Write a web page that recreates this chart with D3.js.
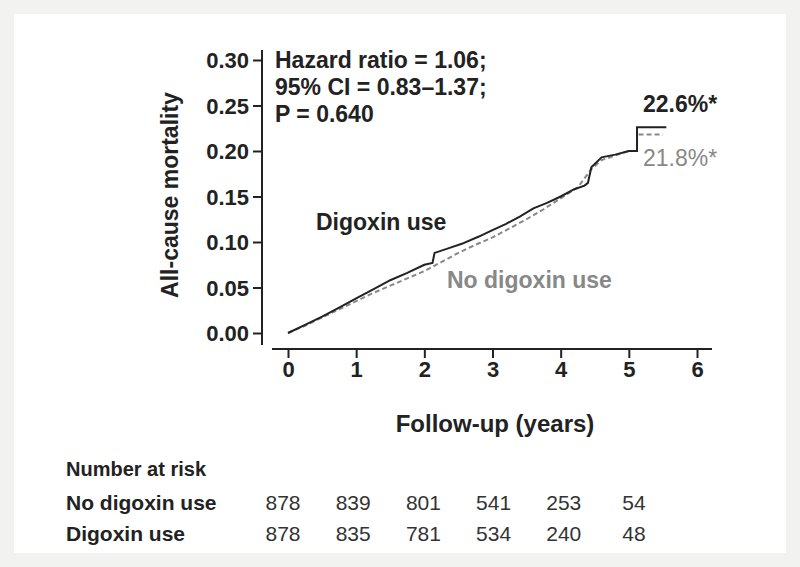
<!DOCTYPE html>
<meta charset="utf-8">
<head>
<style>
  body { margin: 0; background: #f2f2f0; }
  svg { font-family: "Liberation Sans", Arial, sans-serif; }
  .axis path, .axis line { stroke: #222; stroke-width: 2px; }
  .axis text { font-size: 22px; font-weight: bold; fill: #222; font-family: "Liberation Sans", Arial, sans-serif; }
</style>
</head>
<body>
<svg width="800" height="567"></svg>
<script src="https://d3js.org/d3.v7.min.js"></script>
<script>
var xTicks = [0, 1, 2, 3, 4, 5, 6];
var yTicks = [0, 0.05, 0.10, 0.15, 0.20, 0.25, 0.30];
var digoxinT = [0, 0.25, 0.5, 0.75, 1, 1.25, 1.5, 1.75, 2, 2.12, 2.15, 2.35, 2.55, 2.8, 3, 3.2, 3.4, 3.6, 3.8, 4, 4.2, 4.35, 4.4, 4.45, 4.6, 4.8, 5, 5.12, 5.12, 5.55];
var digoxinY = [0, 0.009, 0.018, 0.028, 0.038, 0.048, 0.058, 0.066, 0.075, 0.077, 0.088, 0.093, 0.098, 0.106, 0.113, 0.12, 0.128, 0.137, 0.143, 0.15, 0.158, 0.162, 0.165, 0.182, 0.193, 0.196, 0.2, 0.2, 0.226, 0.226];
var noDigT = [0, 0.25, 0.5, 0.75, 1, 1.25, 1.5, 1.75, 2, 2.25, 2.5, 2.75, 3, 3.25, 3.5, 3.75, 4, 4.25, 4.45, 4.6, 4.8, 5, 5.12, 5.12, 5.5];
var noDigY = [0, 0.008, 0.017, 0.026, 0.035, 0.044, 0.052, 0.06, 0.068, 0.078, 0.088, 0.097, 0.105, 0.115, 0.125, 0.136, 0.148, 0.16, 0.18, 0.19, 0.195, 0.2, 0.2, 0.218, 0.218];
var riskYears = [0, 1, 2, 3, 4, 5];
var riskNoDig = [878, 839, 801, 541, 253, 54];
var riskDig = [878, 835, 781, 534, 240, 48];

var svg = d3.select("svg");
svg.append("rect").attr("x", 14).attr("y", 14).attr("width", 772).attr("height", 539).attr("fill", "#fff");

var x = d3.scaleLinear().domain([0, 6]).range([288, 697]);
var y = d3.scaleLinear().domain([0, 0.30]).range([333, 60]);

svg.append("g").attr("class", "axis").attr("transform", "translate(0,349)")
  .call(d3.axisBottom(x).tickValues(xTicks).tickFormat(d3.format("d")).tickSize(9).tickPadding(3).tickSizeOuter(0))
  .call(function(g) { g.select(".domain").attr("d", "M272,0H712"); });
svg.append("g").attr("class", "axis").attr("transform", "translate(262,0)")
  .call(d3.axisLeft(y).tickValues(yTicks).tickFormat(d3.format(".2f")).tickSize(9).tickPadding(4).tickSizeOuter(0))
  .call(function(g) { g.select(".domain").attr("d", "M0,50V345"); g.selectAll("text").attr("dy", "0.35em"); });

function pts(ts, ys) { return ts.map(function(t, i) { return [t, ys[i]]; }); }
var line = d3.line().x(function(d) { return x(d[0]); }).y(function(d) { return y(d[1]); });

svg.append("path").attr("d", line(pts(noDigT, noDigY))).attr("fill", "none")
  .attr("stroke", "#888").attr("stroke-width", 2).attr("stroke-dasharray", "5,3");
svg.append("path").attr("d", line(pts(digoxinT, digoxinY))).attr("fill", "none")
  .attr("stroke", "#222").attr("stroke-width", 2);

function txt(xp, yp, s, opts) {
  opts = opts || {};
  svg.append("text").attr("x", xp).attr("y", yp).text(s)
    .attr("font-size", opts.size || 23).attr("font-weight", opts.weight || "bold")
    .attr("fill", opts.fill || "#222").attr("text-anchor", opts.anchor || "start");
}
txt(275, 68, "Hazard ratio = 1.06;");
txt(275, 95, "95% CI = 0.83\u20131.37;");
txt(275, 122, "P = 0.640");
txt(643, 112, "22.6%*");
txt(643, 166, "21.8%*", { fill: "#888", weight: "normal" });
txt(316, 230, "Digoxin use");
txt(447, 288, "No digoxin use", { fill: "#888" });
txt(495, 432, "Follow-up (years)", { anchor: "middle", size: 24 });
svg.append("text").attr("transform", "translate(178,195) rotate(-90)").attr("text-anchor", "middle")
  .attr("font-size", 23).attr("font-weight", "bold").attr("fill", "#222").text("All-cause mortality");

txt(66, 476, "Number at risk", { size: 20 });
txt(66, 510, "No digoxin use", { size: 21 });
txt(66, 541, "Digoxin use", { size: 21 });
var rx = d3.scaleLinear().domain([0, 5]).range([283, 634]);
riskYears.forEach(function(t, i) {
  txt(rx(t), 510, riskNoDig[i], { size: 21, weight: "normal", fill: "#333", anchor: "middle" });
  txt(rx(t), 541, riskDig[i], { size: 21, weight: "normal", fill: "#333", anchor: "middle" });
});
</script>
</body>
</html>
